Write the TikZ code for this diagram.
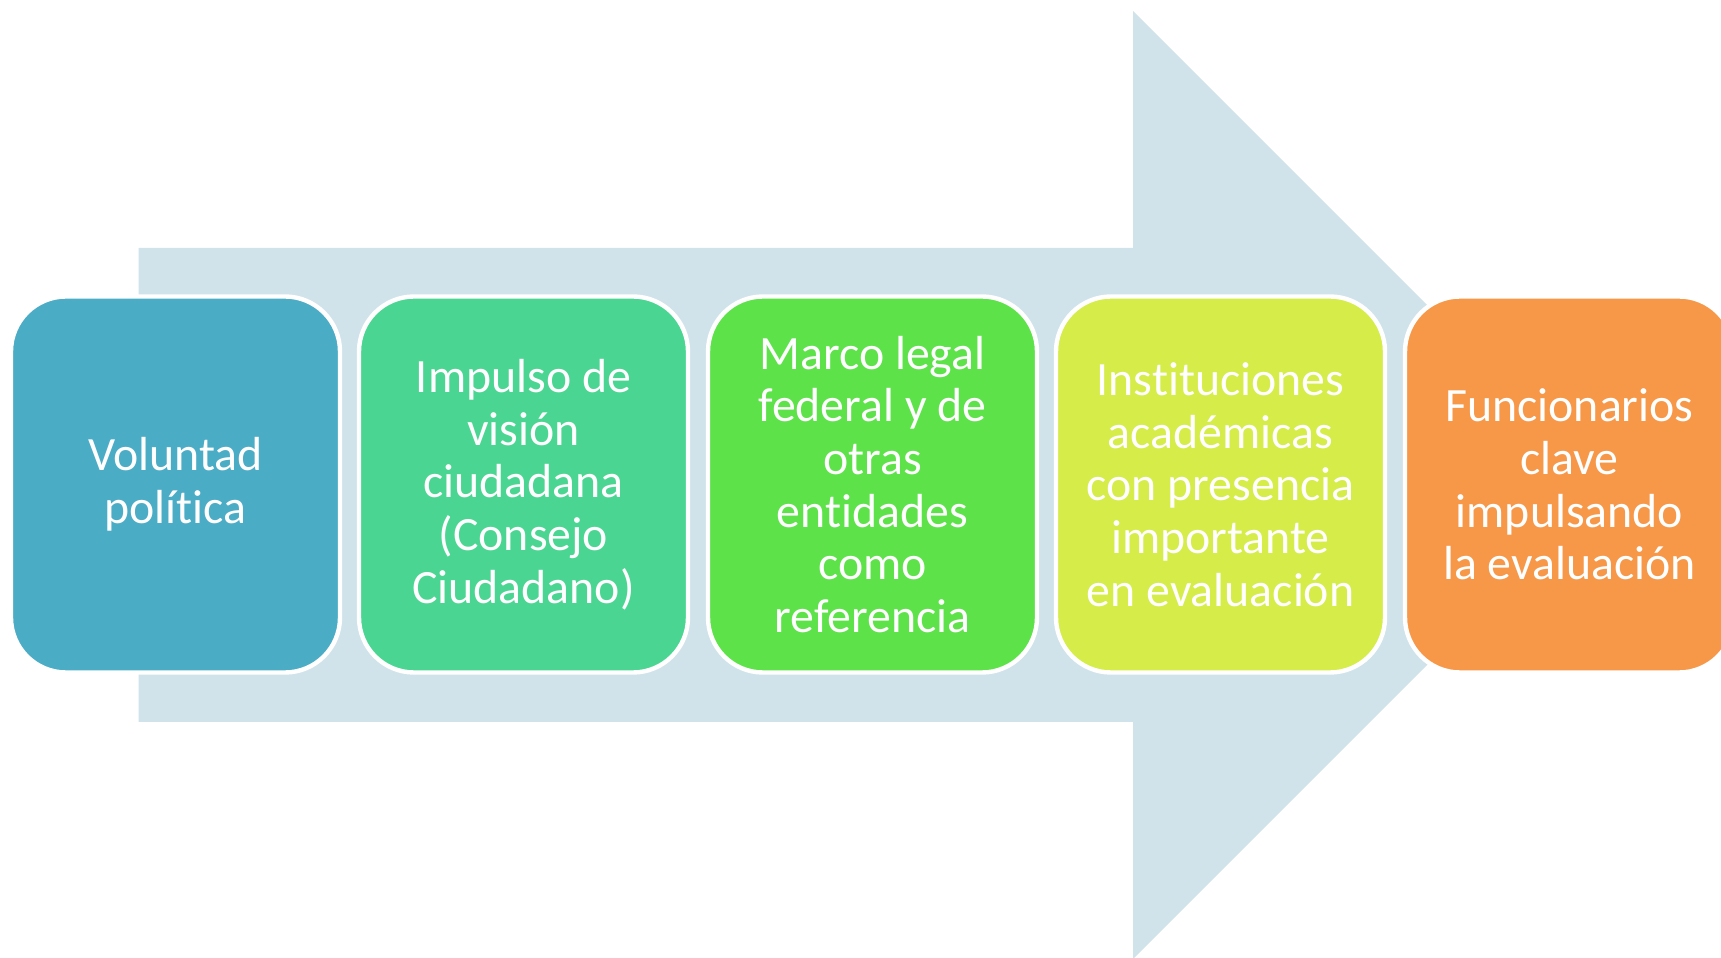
\documentclass[tikz,border=0pt]{standalone}
\usepackage{fontspec}
\setmainfont{Carlito}[Ligatures=NoCommon]
\usepackage{tikz}
\usepackage{xcolor}

\definecolor{arrowbg}{RGB}{208,227,234}
\definecolor{c_vol}{RGB}{75,172,198}
\definecolor{c_imp}{RGB}{74,214,146}
\definecolor{c_mar}{RGB}{94,226,74}
\definecolor{c_ins}{RGB}{214,236,72}
\definecolor{c_fun}{RGB}{247,151,72}

\tikzset{
    stage/.style={draw=white, line width=2.5pt, rounded corners=1.1cm,
        minimum width=6.58cm, minimum height=7.52cm, inner sep=0pt,
        align=center, text=white, font=\fontsize{27.2}{30}\selectfont}
}

\begin{document}
\begin{tikzpicture}
                \useasboundingbox (0, 0) rectangle (34.42, 19.14);
                \clip (0, 0) rectangle (34.42, 19.14);

                \fill[arrowbg] (2.77, 14.18) -- (22.66, 14.18) -- (22.66, 18.92) -- (32.14, 9.44)
                -- (22.66, -0.04) -- (22.66, 4.70) -- (2.77, 4.70) -- cycle;

                \node[stage, fill=c_vol] (s_vol) at (3.51, 9.45) {Voluntad\\política};
                \node[stage, fill=c_imp] (s_imp) at (10.47, 9.45) {Impulso de\\visión\\ciudadana\\(Consejo\\Ciudadano)};
                \node[stage, fill=c_mar] (s_mar) at (17.45, 9.45) {Marco legal\\federal y de\\otras\\entidades\\como\\referencia};
                \node[stage, fill=c_ins] (s_ins) at (24.41, 9.45) {Instituciones\\académicas\\con presencia\\importante\\en evaluación};
                \node[stage, fill=c_fun] (s_fun) at (31.39, 9.45) {Funcionarios\\clave\\impulsando\\la evaluación};
            \end{tikzpicture}
\end{document}
